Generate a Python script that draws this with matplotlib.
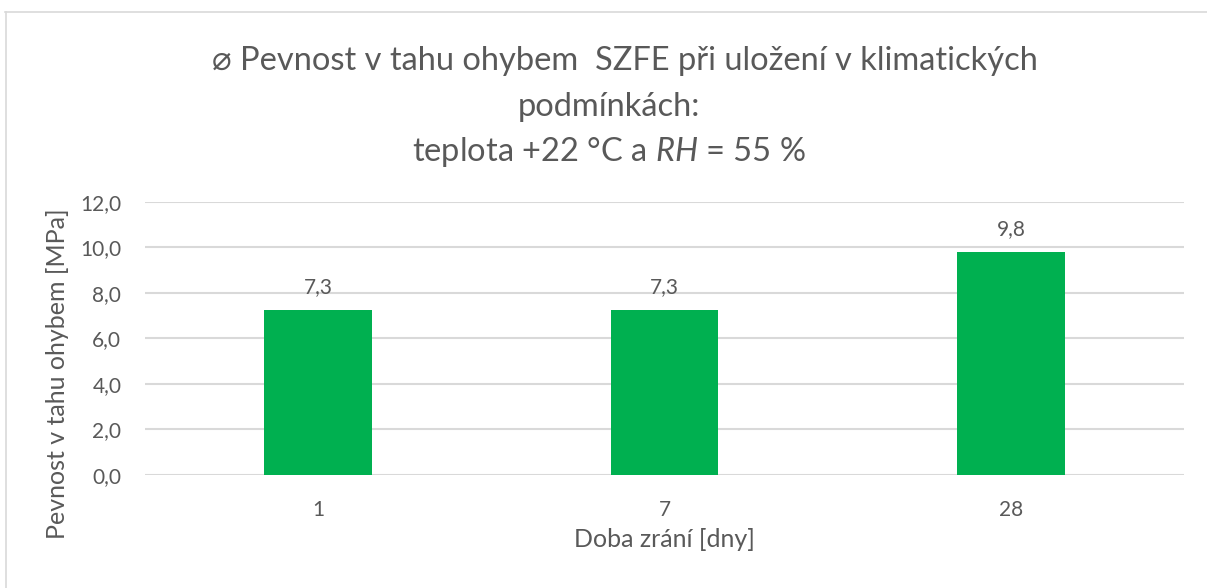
import numpy as np
import matplotlib
matplotlib.use("Agg")
import matplotlib.pyplot as plt
from matplotlib.lines import Line2D

plt.rcParams['font.family'] = ['Lato', 'DejaVu Sans']
plt.rcParams['mathtext.fontset'] = 'custom'
plt.rcParams['mathtext.it'] = 'Lato:italic'
plt.rcParams['mathtext.rm'] = 'Lato'

# data
days = ["1", "7", "28"]
strength = [7.26, 7.26, 9.8]
y_ticks = [0, 2, 4, 6, 8, 10, 12]

title_lines = ["\u2300 Pevnost v tahu ohybem  SZFE při uložení v klimatických",
               "podmínkách:",
               "teplota +22 °C a $\\mathit{RH}$ = 55 %"]
x_label = "Doba zrání [dny]"
y_label = "Pevnost v tahu ohybem [MPa]"

text_col = '#595959'
grid_col = '#d9d9d9'
bar_col = '#00b050'

fig = plt.figure(figsize=(12.07, 5.88), dpi=100)
ax = fig.add_axes([0.1201, 0.1922, 0.861, 0.4643])

x = np.arange(len(days))
bars = ax.bar(x, strength, width=0.31, color=bar_col, zorder=3)
for b, v in zip(bars, strength):
    ax.text(b.get_x() + b.get_width() / 2, v + 0.55, f"{v:.1f}".replace('.', ','),
            ha='center', va='bottom', fontsize=15, color=text_col)

ax.set_xlim(-0.5, len(days) - 0.5)
ax.set_ylim(0, 12)
ax.set_yticks(y_ticks)
ax.set_yticklabels([f"{t:.1f}".replace('.', ',') for t in y_ticks])
ax.set_xticks(x)
ax.set_xticklabels(days)
ax.tick_params(axis='y', length=0, pad=17, labelsize=15, labelcolor=text_col)
ax.tick_params(axis='x', length=0, pad=18, labelsize=15, labelcolor=text_col)
ax.grid(axis='y', color=grid_col, linewidth=1.5, zorder=0)
for s in ax.spines.values():
    s.set_visible(False)

ax.set_xlabel(x_label, fontsize=18, color=text_col, labelpad=6)
ax.set_ylabel(y_label, fontsize=18, color=text_col)
# Excel centres the y title lower than the plot area
ax.yaxis.set_label_coords(-0.073, 0.37)

title_x = [0.5178, 0.5046, 0.5046]
title_y = [0.897, 0.818, 0.742]
for t, xx, yy in zip(title_lines, title_x, title_y):
    fig.text(xx, yy, t, ha='center', va='center', fontsize=23.5, color=text_col)

# chart border (top and left)
fig.add_artist(Line2D([0.004, 1.0], [0.979, 0.979], color=grid_col, linewidth=1.2))
fig.add_artist(Line2D([0.005, 0.005], [0.0, 0.979], color=grid_col, linewidth=1.2))

fig.savefig("out.png", dpi=100)
